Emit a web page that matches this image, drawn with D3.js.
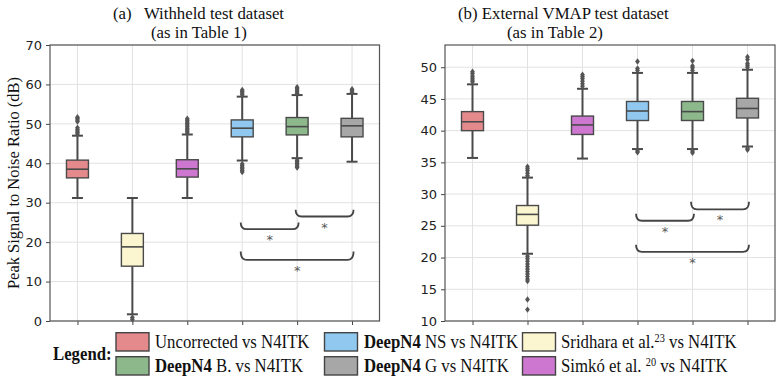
<!DOCTYPE html>
<html><head><meta charset="utf-8">
<script src="https://cdn.jsdelivr.net/npm/d3@7"></script>
<style>body{margin:0;background:#fff}</style></head>
<body><svg id="c" width="780" height="380"></svg>
<script>
// ---------- data ----------
const categories = ["Uncorrected vs N4ITK","Sridhara et al. vs N4ITK","Simkó et al. vs N4ITK","DeepN4 NS vs N4ITK","DeepN4 B. vs N4ITK","DeepN4 G vs N4ITK"];
const boxColors = ["#e58a8c","#fbf5d0","#cd77d0","#90c8ef","#8db88c","#a7a7a7"];

const withheldTicks = [0,10,20,30,40,50,60,70];
const withheldLow    = [31.2, 1.7, 31.2, 40.7, 41.3, 40.4];
const withheldQ1     = [36.3, 13.9, 36.5, 46.7, 47.2, 46.7];
const withheldMedian = [38.5, 18.8, 38.6, 48.9, 49.3, 49.5];
const withheldQ3     = [40.8, 22.2, 40.9, 51.0, 51.6, 51.4];
const withheldHigh   = [47.0, 31.2, 47.3, 56.9, 57.3, 57.6];
const withheldOutliers = [
  [47.4,47.8,48.2,48.6,49.0,50.6,51.0,51.4,51.7],
  [0.4,0.9],
  [47.7,48.1,48.5,48.9,49.3,49.7,50.1,50.5,50.9,51.3],
  [57.4,57.8,58.2,58.6,39.8,39.4,39.0,38.6,38.2,37.8],
  [57.7,58.1,58.5,58.9,59.3,40.8,40.4,40.0,39.6,39.2,38.9],
  [58.0,58.4,58.8]
];

const externalTicks = [10,15,20,25,30,35,40,45,50];
const externalLow    = [35.7, 20.6, 35.6, 37.1, 37.1, 37.5];
const externalQ1     = [40.0, 25.1, 39.4, 41.6, 41.6, 42.0];
const externalMedian = [41.4, 26.8, 40.9, 43.1, 43.0, 43.5];
const externalQ3     = [43.0, 28.2, 42.3, 44.6, 44.6, 45.1];
const externalHigh   = [47.3, 32.6, 46.6, 49.1, 49.1, 49.6];
const externalOutliers = [
  [47.7,48.0,48.3,48.6,49.0,49.3],
  [32.9,33.3,33.7,34.0,34.3,20.2,19.8,19.4,19.0,18.6,18.2,17.8,17.4,17.0,16.6,16.3,13.4,11.8],
  [47.0,47.4,47.8,48.2,48.5,48.8],
  [49.5,49.8,50.9,36.8,36.6],
  [49.5,49.9,50.2,51.0,36.8,36.5],
  [50.0,50.3,50.6,51.2,51.6,37.2,37.0]
];

const bracketPairs = [[3,4],[4,5],[3,5]];
const withheldBracketEnds = [25.0, 28.2, 17.6];
const withheldBracketBase = [23.3, 26.5, 15.5];
const externalBracketEnds = [26.9, 28.8, 22.0];
const externalBracketBase = [25.8, 27.6, 20.9];

const legendOrder = [0,3,1,4,5,2];

// ---------- drawing ----------
const svg = d3.select("#c");
const serif = "'Liberation Serif','Times New Roman',serif";
const sans = "'DejaVu Sans',sans-serif";
const lineCol = "#4a4a4a";

function panel(o){
  const g = svg.append("g");
  const x = d3.scalePoint().domain(d3.range(categories.length)).range([o.x0,o.x1]).padding(0.5);
  const y = d3.scaleLinear().domain(o.domain).range([321,45]);
  const step = x.step(), bw = step*0.4;

  // grid
  g.append("g").selectAll("line").data(o.ticks).join("line")
    .attr("x1",o.x0).attr("x2",o.x1).attr("y1",d=>y(d)).attr("y2",d=>y(d))
    .attr("stroke","#e2e2e2").attr("stroke-width",1);
  g.append("g").selectAll("line").data(d3.range(categories.length)).join("line")
    .attr("x1",d=>x(d)).attr("x2",d=>x(d)).attr("y1",45).attr("y2",321)
    .attr("stroke","#e2e2e2").attr("stroke-width",1);

  // axes
  const ya = g.append("g").attr("transform",`translate(${o.x0},0)`)
    .call(d3.axisLeft(y).tickValues(o.ticks).tickSize(4).tickPadding(4));
  ya.select(".domain").remove();
  ya.selectAll("text").attr("font-family",sans).attr("font-size",13).attr("fill","#222");
  ya.selectAll("line").attr("stroke","#444");
  const xa = g.append("g").attr("transform",`translate(0,321)`)
    .call(d3.axisBottom(x).tickFormat("").tickSize(4));
  xa.select(".domain").remove();
  xa.selectAll("line").attr("stroke","#444");

  // boxes
  categories.forEach((c,i)=>{
    const cx = x(i);
    const bg = g.append("g");
    bg.append("line").attr("x1",cx).attr("x2",cx).attr("y1",y(o.high[i])).attr("y2",y(o.q3[i]))
      .attr("stroke",lineCol).attr("stroke-width",2);
    bg.append("line").attr("x1",cx).attr("x2",cx).attr("y1",y(o.q1[i])).attr("y2",y(o.low[i]))
      .attr("stroke",lineCol).attr("stroke-width",2);
    [o.high[i],o.low[i]].forEach(v=>{
      bg.append("line").attr("x1",cx-bw/4).attr("x2",cx+bw/4).attr("y1",y(v)).attr("y2",y(v))
        .attr("stroke",lineCol).attr("stroke-width",2);
    });
    bg.append("rect").attr("x",cx-bw/2).attr("width",bw)
      .attr("y",y(o.q3[i])).attr("height",y(o.q1[i])-y(o.q3[i]))
      .attr("fill",boxColors[i]).attr("stroke",lineCol).attr("stroke-width",1.4);
    bg.append("line").attr("x1",cx-bw/2).attr("x2",cx+bw/2).attr("y1",y(o.median[i])).attr("y2",y(o.median[i]))
      .attr("stroke",lineCol).attr("stroke-width",1.6);
    bg.selectAll("path").data(o.outliers[i]).join("path")
      .attr("d","M0,-3.2L2.4,0L0,3.2L-2.4,0Z")
      .attr("transform",d=>`translate(${cx},${y(d)})`)
      .attr("fill","#555");
  });

  // significance brackets
  bracketPairs.forEach((p,k)=>{
    const x1 = x(p[0])-1.5, x2 = x(p[1])+1.5;
    const yt = y(o.bEnds[k]), yb = y(o.bBase[k]), r = 6;
    g.append("path")
      .attr("d",`M${x1},${yt}Q${x1},${yb} ${x1+r},${yb}L${x2-r},${yb}Q${x2},${yb} ${x2},${yt}`)
      .attr("fill","none").attr("stroke","#444").attr("stroke-width",1.8);
    g.append("text").attr("x",(x(p[0])+x(p[1]))/2).attr("y",yb+15)
      .attr("text-anchor","middle").attr("font-family",sans).attr("font-size",13)
      .attr("fill","#555").attr("opacity",0.98).text("*");
  });

  // frame
  g.append("rect").attr("x",o.x0).attr("y",45).attr("width",o.x1-o.x0).attr("height",276)
    .attr("fill","none").attr("stroke","#555").attr("stroke-width",1.2);

  // titles
  o.titles.forEach((t,k)=>{
    g.append("text").attr("transform",`translate(${t[1]},${k?37.5:18.5}) scale(0.96,1)`)
      .attr("font-family",serif).attr("font-size",17.5).attr("fill","#111")
      .attr("xml:space","preserve").style("white-space","pre").text(t[0]);
  });
}

panel({x0:50,x1:379.5,domain:[0,70],ticks:withheldTicks,
  low:withheldLow,q1:withheldQ1,median:withheldMedian,q3:withheldQ3,high:withheldHigh,outliers:withheldOutliers,
  bEnds:withheldBracketEnds,bBase:withheldBracketBase,
  titles:[["(a)   Withheld test dataset",113],["(as in Table 1)",151]]});
panel({x0:445,x1:775,domain:[10,53.5],ticks:externalTicks,
  low:externalLow,q1:externalQ1,median:externalMedian,q3:externalQ3,high:externalHigh,outliers:externalOutliers,
  bEnds:externalBracketEnds,bBase:externalBracketBase,
  titles:[["(b) External VMAP test dataset",458],["(as in Table 2)",507]]});

// y label
svg.append("text").attr("transform","translate(18.5,183) rotate(-90)")
  .attr("text-anchor","middle").attr("font-family",serif).attr("font-size",16.5).attr("fill","#111")
  .text("Peak Signal to Noise Ratio (dB)");

// legend
const leg = svg.append("g");
leg.append("text").attr("transform","translate(53,359.5) scale(0.86,1)")
  .attr("font-family",serif).attr("font-size",19.5).attr("font-weight","bold").attr("fill","#111").text("Legend:");
const colX = [116,324.5,522.5], textX = [155,364,561], rowY = [332.7,356.7];
legendOrder.forEach((ci,k)=>{
  const col = k%3, row = Math.floor(k/3);
  leg.append("rect").attr("x",colX[col]).attr("y",rowY[row]).attr("width",33).attr("height",18.3)
    .attr("fill",boxColors[ci]).attr("stroke","#444").attr("stroke-width",1.4);
  const t = leg.append("text").attr("transform",`translate(${textX[col]},${rowY[row]+15.6}) scale(0.86,1)`)
    .attr("font-family",serif).attr("font-size",19.5).attr("fill","#111").attr("xml:space","preserve");
  const name = categories[ci];
  if (name.startsWith("DeepN4")) {
    t.append("tspan").attr("font-weight","bold").text("DeepN4");
    t.append("tspan").text(name.slice(6));
  } else if (name.startsWith("Sridhara")) {
    t.append("tspan").text("Sridhara et al.");
    t.append("tspan").attr("font-size",12).attr("baseline-shift","super").text("23");
    t.append("tspan").text(" vs N4ITK");
  } else if (name.startsWith("Simk")) {
    t.append("tspan").text("Simkó et al. ");
    t.append("tspan").attr("font-size",12).attr("baseline-shift","super").text("20");
    t.append("tspan").text(" vs N4ITK");
  } else {
    t.text(name);
  }
});
</script></body></html>
